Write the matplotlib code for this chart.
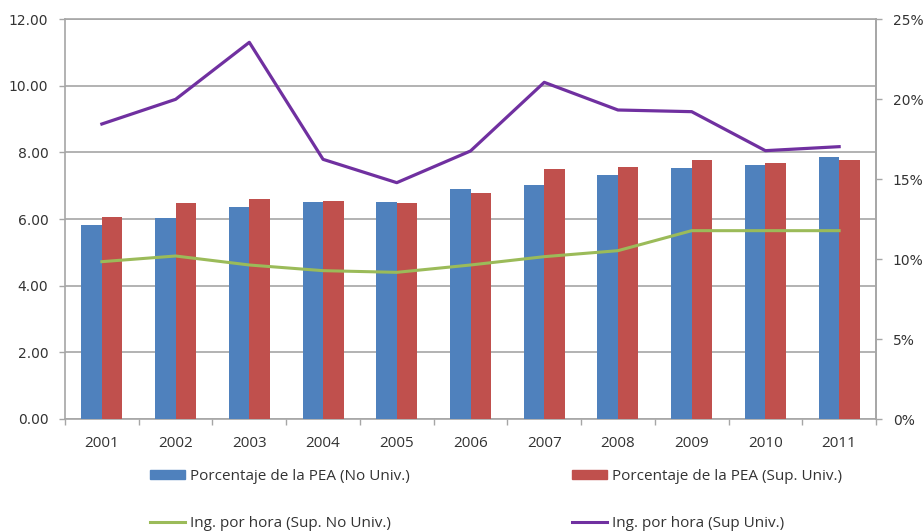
import numpy as np
import matplotlib
matplotlib.use('Agg')
import matplotlib.pyplot as plt
from matplotlib.patches import Patch
from matplotlib.lines import Line2D

plt.rcParams['font.family'] = ['Open Sans', 'DejaVu Sans']

years = ['2001', '2002', '2003', '2004', '2005', '2006', '2007', '2008', '2009', '2010', '2011']
pea_no_univ = [12.1, 12.55, 13.25, 13.55, 13.55, 14.35, 14.65, 15.25, 15.7, 15.9, 16.4]
pea_sup_univ = [12.65, 13.5, 13.75, 13.65, 13.5, 14.15, 15.65, 15.75, 16.2, 16.0, 16.2]
ing_sup_no_univ = [4.72, 4.89, 4.62, 4.45, 4.40, 4.62, 4.87, 5.05, 5.65, 5.65, 5.65]
ing_sup_univ = [8.85, 9.59, 11.30, 7.79, 7.09, 8.04, 10.10, 9.27, 9.22, 8.05, 8.17]

blue = '#4F81BD'
red = '#C0504D'
green = '#9BBB59'
purple = '#7030A0'
grid_c = '#A6A6A6'
txt_c = '#333333'

W, H = 924, 531
fig = plt.figure(figsize=(W / 100, H / 100), dpi=100)
pos = [65 / W, 1 - 419 / H, (876 - 65) / W, 400 / H]

x = np.arange(len(years))
bw = 0.278

# base axis: left scale + grid
ax = fig.add_axes(pos)
ax.set_xlim(-0.5, len(years) - 0.5)
ax.set_ylim(0, 12)
ax.set_yticks(np.arange(0, 12.1, 2))
ax.set_yticklabels([f'{v:.2f}' for v in np.arange(0, 12.1, 2)], family='DejaVu Sans', fontsize=10, color=txt_c)
ax.grid(axis='y', color=grid_c, linewidth=1.2)
ax.set_axisbelow(True)
ax.set_xticks(x)
ax.set_xticklabels(years, fontsize=11, color=txt_c)
ax.set_xticks(np.arange(-0.5, len(years), 1), minor=True)
ax.tick_params(axis='x', which='major', length=0, pad=12)
ax.tick_params(axis='x', which='minor', length=4, color=grid_c, width=1, direction='out')
ax.tick_params(axis='y', length=4, color=grid_c, width=1, pad=8)
for s in ['left', 'bottom', 'right', 'top']:
    ax.spines[s].set_color(grid_c)
    ax.spines[s].set_linewidth(1.2)

# bars on the percent axis
ax2 = ax.twinx()
ax2.set_ylim(0, 25)
ax2.bar(x - bw / 2, pea_no_univ, bw, color=blue, zorder=2)
ax2.bar(x + bw / 2, pea_sup_univ, bw, color=red, zorder=2)
ax2.set_yticks(np.arange(0, 26, 5))
ax2.set_yticklabels([f'{v}%' for v in range(0, 26, 5)], family='DejaVu Sans', fontsize=10, color=txt_c)
ax2.tick_params(axis='y', length=4, color=grid_c, width=1, pad=8)
for s in ['left', 'bottom', 'top']:
    ax2.spines[s].set_visible(False)
ax2.spines['right'].set_color(grid_c)
ax2.spines['right'].set_linewidth(1.2)

# lines on the left scale, drawn on top
ax3 = ax.twinx()
ax3.set_ylim(ax.get_ylim())
ax3.plot(x, ing_sup_no_univ, color=green, linewidth=2.2, solid_joinstyle='round')
ax3.plot(x, ing_sup_univ, color=purple, linewidth=2.3, solid_joinstyle='round')
ax3.axis('off')

leg_kw = dict(frameon=False, fontsize=11, handlelength=2.3, handleheight=0.55,
              handletextpad=0.3, labelspacing=2.1, borderpad=0, borderaxespad=0,
              loc='upper left', labelcolor=txt_c)
h1 = [Patch(color=blue), Line2D([], [], color=green, linewidth=2.2)]
l1 = ['Porcentaje de la PEA (No Univ.)', 'Ing. por hora (Sup. No Univ.)']
h2 = [Patch(color=red), Line2D([], [], color=purple, linewidth=2.2)]
l2 = ['Porcentaje de la PEA (Sup. Univ.)', 'Ing. por hora (Sup Univ.)']
fig.legend(h1, l1, bbox_to_anchor=(150 / W, 1 - 469 / H), **leg_kw)
fig.legend(h2, l2, bbox_to_anchor=(572 / W, 1 - 469 / H), **leg_kw)

fig.savefig('out.png', dpi=100)
